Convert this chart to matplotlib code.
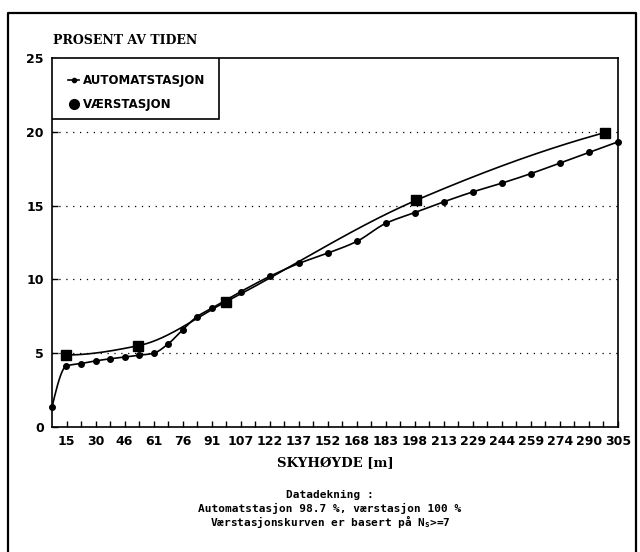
import numpy as np
import matplotlib
matplotlib.use("Agg")
import matplotlib.pyplot as plt
from matplotlib.lines import Line2D
from matplotlib.patches import Rectangle

# ---------------- data ----------------
auto_height_m = [7.6, 15.2, 22.9, 30.5, 38.1, 45.7, 53.3, 61.0, 68.6, 76.2, 83.8, 91.4,
                 106.7, 121.9, 137.2, 152.4, 167.6, 182.9, 198.1, 213.4, 228.6, 243.8,
                 259.1, 274.3, 289.6, 304.8]
auto_percent = [1.34, 4.14, 4.30, 4.48, 4.62, 4.74, 4.85, 5.00, 5.63, 6.58, 7.48, 8.04,
                9.17, 10.20, 11.08, 11.78, 12.57, 13.80, 14.53, 15.26, 15.93, 16.52,
                17.17, 17.88, 18.60, 19.32]

vaer_height_m = [15.2, 53.0, 99.0, 199.0, 298.0]
vaer_percent = [4.88, 5.51, 8.49, 15.37, 19.95]

tick_labels = ['15', '30', '46', '61', '76', '91', '107', '122', '137', '152', '168',
               '183', '198', '213', '229', '244', '259', '274', '290', '305']
tick_step_m = 7.62


def pchip_curve(x, y, num=400):
    x = np.asarray(x, float)
    y = np.asarray(y, float)
    n = len(x)
    h = np.diff(x)
    d = np.diff(y) / h
    m = np.zeros(n)
    for k in range(1, n - 1):
        if d[k - 1] * d[k] <= 0:
            m[k] = 0.0
        else:
            w1 = 2 * h[k] + h[k - 1]
            w2 = h[k] + 2 * h[k - 1]
            m[k] = (w1 + w2) / (w1 / d[k - 1] + w2 / d[k])

    def end_slope(h0, h1, d0, d1):
        s = ((2 * h0 + h1) * d0 - h0 * d1) / (h0 + h1)
        if np.sign(s) != np.sign(d0):
            s = 0.0
        elif np.sign(d0) != np.sign(d1) and abs(s) > abs(3 * d0):
            s = 3 * d0
        return s

    m[0] = end_slope(h[0], h[1], d[0], d[1])
    m[-1] = end_slope(h[-1], h[-2], d[-1], d[-2])
    xs = np.linspace(x[0], x[-1], num)
    idx = np.clip(np.searchsorted(x, xs) - 1, 0, n - 2)
    t = (xs - x[idx]) / h[idx]
    h00 = 2 * t**3 - 3 * t**2 + 1
    h10 = t**3 - 2 * t**2 + t
    h01 = -2 * t**3 + 3 * t**2
    h11 = t**3 - t**2
    ys = h00 * y[idx] + h10 * h[idx] * m[idx] + h01 * y[idx + 1] + h11 * h[idx] * m[idx + 1]
    return xs, ys


# ---------------- figure ----------------
W, H = 640, 552
fig = plt.figure(figsize=(W / 100, H / 100), dpi=100)
fig.patch.set_facecolor('white')

ax_l, ax_r, ax_t, ax_b = 52, 618, 58, 427
ax = fig.add_axes([ax_l / W, 1 - ax_b / H, (ax_r - ax_l) / W, (ax_b - ax_t) / H])

ax.set_xlim(tick_step_m * 1, tick_step_m * 40)
ax.set_ylim(0, 25)

# grid lines
for gy in [5, 10, 15, 20]:
    ax.axhline(gy, color='black', lw=0.9, linestyle=(0, (1, 4.5)), zorder=1)

# automat curve
xs, ys = pchip_curve(auto_height_m, auto_percent)
ax.plot(xs, ys, color='black', lw=1.2, zorder=3)
ax.plot(auto_height_m, auto_percent, linestyle='none', marker='o', markersize=4,
        color='black', zorder=4, clip_on=False)

# vaer curve
xv, yv = pchip_curve(vaer_height_m, vaer_percent)
ax.plot(xv, yv, color='black', lw=1.2, zorder=3)
ax.plot(vaer_height_m, vaer_percent, linestyle='none', marker='s', markersize=7,
        color='black', zorder=5)

# ticks
major_pos = [tick_step_m * 2 * (i + 1) for i in range(len(tick_labels))]
ax.set_xticks(major_pos)
ax.set_xticklabels(tick_labels)
ax.set_xticks([tick_step_m * k for k in range(3, 40, 2)], minor=True)
ax.tick_params(axis='x', which='both', direction='in', length=4, width=1.0, pad=6,
               labelsize=9)
ax.set_yticks([0, 5, 10, 15, 20, 25])
ax.set_yticklabels(['0', '5', '10', '15', '20', '25'])
ax.tick_params(axis='y', which='both', direction='in', length=4, width=1.0, pad=6,
               labelsize=9)
for lab in ax.get_xticklabels() + ax.get_yticklabels():
    lab.set_fontweight('bold')

for sp in ax.spines.values():
    sp.set_linewidth(1.2)

# legend box
lw_frac = (219 - ax_l) / (ax_r - ax_l)
lh_frac = (119 - ax_t) / (ax_b - ax_t)
ax.add_patch(Rectangle((0, 1 - lh_frac), lw_frac, lh_frac, transform=ax.transAxes,
                       fill=True, facecolor='white', edgecolor='black', lw=1.2, zorder=6))
handles = [Line2D([0], [0], color='black', lw=1.2, marker='o', markersize=3),
           Line2D([0], [0], color='black', lw=0, marker='o', markersize=7)]
leg = ax.legend(handles, ['AUTOMATSTASJON', 'VÆRSTASJON'], loc='upper left',
                bbox_to_anchor=(0.01, 0.985), frameon=False, handlelength=0.9,
                handletextpad=0.3, labelspacing=0.9,
                prop={'weight': 'bold', 'size': 8.5})
leg.set_zorder(7)

# texts
fig.text(53 / W, 1 - 40 / H, 'PROSENT AV TIDEN', family='DejaVu Serif',
         weight='bold', fontsize=9, ha='left', va='center')
fig.text(335 / W, 1 - 464 / H, 'SKYHØYDE [m]', family='DejaVu Serif', weight='bold',
         fontsize=9.5, ha='center', va='center')
note_kw = dict(family='DejaVu Sans Mono', weight='bold', fontsize=8, ha='center',
               va='center')
fig.text(330 / W, 1 - 495 / H, 'Datadekning :', **note_kw)
fig.text(330 / W, 1 - 508 / H, 'Automatstasjon 98.7 %, værstasjon 100 %', **note_kw)
fig.text(330 / W, 1 - 522 / H, r'Værstasjonskurven er basert på N$_\mathregular{s}$>=7',
         **note_kw)

# outer frame (left, top, right)
fx0, fx1, fy0 = 8 / W, 636 / W, 1 - 13 / H
fig.add_artist(Line2D([fx0, fx0, fx1, fx1], [0, fy0, fy0, 0], transform=fig.transFigure,
                      color='black', lw=1.6))

fig.savefig('out.png', dpi=100)
